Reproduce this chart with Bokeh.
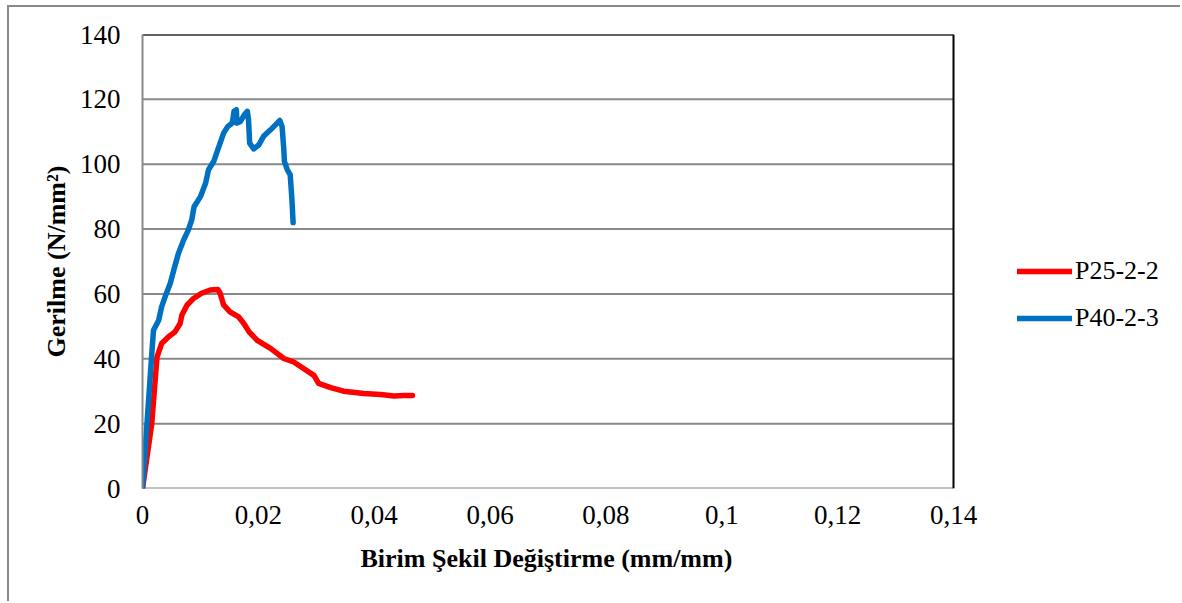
from bokeh.plotting import figure
from bokeh.models import Legend, LegendItem, FixedTicker, CustomJSTickFormatter, Title
from bokeh.embed import file_html
from bokeh.resources import INLINE

# P25-2-2 (red)
p25_x = [0, 0.0016, 0.0025, 0.0033, 0.0045, 0.0056, 0.0065, 0.0068, 0.0077, 0.0088, 0.0102,
         0.0117, 0.0130, 0.0134, 0.0140, 0.0151, 0.0166, 0.0175, 0.0184, 0.0198, 0.0221,
         0.0244, 0.0261, 0.0278, 0.0296, 0.0304, 0.0325, 0.0347, 0.0382, 0.0411, 0.0434,
         0.0451, 0.0466]
p25_y = [0, 20.0, 40.5, 44.7, 46.8, 48.3, 50.9, 53.5, 56.6, 58.6, 60.2,
         61.2, 61.4, 60.2, 56.6, 54.5, 52.9, 50.9, 48.3, 45.7, 43.2,
         40.1, 39.0, 37.0, 34.9, 32.4, 31.1, 30.0, 29.3, 29.0, 28.5,
         28.7, 28.7]

# P40-2-3 (blue)
p40_x = [0, 0.0017, 0.0019, 0.0028, 0.0033, 0.0039, 0.0048, 0.0054, 0.0062, 0.0071, 0.0079,
         0.0085, 0.0089, 0.0100, 0.0109, 0.0114, 0.0123, 0.0132, 0.0140, 0.0147, 0.0155,
         0.0158, 0.0162, 0.0163, 0.0169, 0.0176, 0.0181, 0.0183, 0.0185, 0.0192, 0.0201,
         0.0209, 0.0221, 0.0230, 0.0237, 0.0241, 0.0244, 0.0245, 0.0250, 0.0255, 0.0258,
         0.0260]
p40_y = [0, 44.0, 48.8, 51.9, 56.0, 59.1, 63.3, 67.4, 72.5, 76.6, 79.7,
         82.8, 86.9, 90.0, 94.2, 98.3, 100.9, 105.5, 109.6, 111.6, 112.7,
         116.3, 116.8, 112.7, 113.2, 115.3, 116.3, 113.7, 106.5, 104.7, 106.0,
         108.6, 110.6, 112.2, 113.5, 111.6, 104.4, 100.8, 98.3, 96.7, 89.0,
         82.0]

x_ticks = [0, 0.02, 0.04, 0.06, 0.08, 0.1, 0.12, 0.14]
y_ticks = [0, 20, 40, 60, 80, 100, 120, 140]

x_title = "Birim Şekil Değiştirme (mm/mm)"
y_title = "Gerilme (N/mm²)"

FONT = "Liberation Serif"
GRAY = "#898989"

XMAX = x_ticks[-1]
YMAX = y_ticks[-1]
# frame extends to the right edge so the legend (outside the plot box) is not clipped
x_end = XMAX * 1040 / 811

p = figure(width=1173, height=596, output_backend="svg", toolbar_location=None,
           x_range=(0, x_end), y_range=(0, YMAX),
           min_border_left=133, min_border_top=27, min_border_right=0, min_border_bottom=115,
           margin=(5, 0, 0, 7),
           styles={"border-left": "2px solid #898989", "border-top": "2px solid #898989"})

p.background_fill_color = "white"
p.border_fill_color = "white"
p.outline_line_color = None

p.xgrid.grid_line_color = None
p.ygrid.grid_line_color = None

p.xaxis.ticker = FixedTicker(ticks=x_ticks)
p.yaxis.ticker = FixedTicker(ticks=y_ticks)
p.xaxis.formatter = CustomJSTickFormatter(code="""
  let s = tick.toFixed(2).replace(/0+$/, '').replace(/\\.$/, '');
  return s.replace('.', ',');
""")

for ax in (p.xaxis[0], p.yaxis[0]):
    ax.axis_line_color = GRAY
    ax.axis_line_width = 2
    ax.major_tick_in = 0
    ax.major_tick_out = 0
    ax.minor_tick_in = 0
    ax.minor_tick_out = 0
    ax.major_label_text_font = FONT
    ax.major_label_text_font_size = "27px"
    ax.major_label_text_color = "black"
    ax.axis_label_text_font = FONT
    ax.axis_label_text_font_size = "26px"
    ax.axis_label_text_font_style = "bold"
    ax.axis_label_text_color = "black"
p.xaxis.axis_line_color = None

p.yaxis.axis_label = y_title
p.xaxis.major_label_standoff = 17
p.yaxis.major_label_standoff = 22
p.yaxis.axis_label_standoff = 6

# x-axis title centred under the plot box (not under the extended frame)
xt = Title(text=x_title, align="left", offset=218, standoff=30,
           text_font=FONT, text_font_size="26px", text_font_style="bold", text_color="black")
p.add_layout(xt, "below")

# horizontal gridlines limited to the plot box
p.segment(x0=[0] * len(y_ticks), x1=[XMAX] * len(y_ticks), y0=y_ticks, y1=y_ticks,
          line_color=GRAY, line_width=2)
# plot box: black top and right edges
p.segment(x0=[0, XMAX], x1=[XMAX, XMAX], y0=[YMAX, 0], y1=[YMAX, YMAX],
          line_color="black", line_width=2)

r1 = p.line(p25_x, p25_y, line_color="#FF0000", line_width=5.5, line_join="round", line_cap="round")
r2 = p.line(p40_x, p40_y, line_color="#0070C0", line_width=5.5, line_join="round", line_cap="round")

legend = Legend(items=[LegendItem(label="P25-2-2", renderers=[r1]),
                       LegendItem(label="P40-2-3", renderers=[r2])],
                location=(875, 155))
legend.label_text_font = FONT
legend.label_text_font_size = "26px"
legend.label_text_color = "black"
legend.glyph_width = 55
legend.glyph_height = 22
legend.label_height = 22
legend.label_standoff = 3
legend.spacing = 17
legend.padding = 0
legend.margin = 0
legend.border_line_color = None
legend.background_fill_alpha = 0
p.add_layout(legend, "center")

open("out.html", "w").write(file_html(p, INLINE))
